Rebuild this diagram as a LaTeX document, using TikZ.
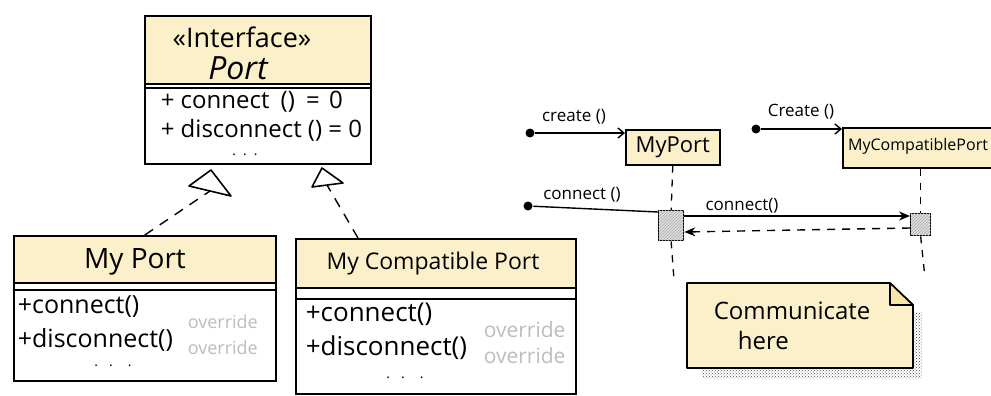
\documentclass[tikz,border=0pt]{standalone}
\usepackage{fontspec}
\setmainfont{Open Sans}
\usetikzlibrary{arrows.meta,patterns,calc}
\definecolor{hdr}{HTML}{FBF0C9}
\definecolor{foldc}{HTML}{F6E6A8}
\definecolor{ovrgray}{HTML}{BDBDBD}
\newcommand\myfs[1]{\fontsize{#1}{#1}\selectfont}
\begin{document}
\begin{tikzpicture}[x=1pt,y=-1pt,line width=1.6pt,
  umlbox/.style={draw,fill=white,anchor=north west,inner sep=0pt,
    path picture={\fill[hdr] (path picture bounding box.north west) rectangle ([yshift=-#1]path picture bounding box.north east);}},
  smallbox/.style={draw,fill=hdr,anchor=north west,inner sep=0pt},
  mth/.style={inner sep=0pt,anchor=west},
  ttl/.style={inner sep=0pt},
  dotsl/.style={inner sep=0pt,font=\myfs{14}},
  ovr/.style={inner sep=0pt,anchor=west,text=ovrgray},
  realize/.style={dash pattern=on 10pt off 8pt,line width=1.4pt},
  lifeline/.style={dash pattern=on 7pt off 7pt,line width=1.3pt},
  act/.style={draw,fill=gray!25,anchor=north west,inner sep=0pt,line width=1.3pt,
    postaction={pattern=north east lines,pattern color=gray!65}},
  startdot/.style={circle,fill=black,inner sep=0pt,minimum size=9pt},
  msglbl/.style={inner sep=0pt,font=\myfs{17}},
  openarr/.style={-{Straight Barb[length=6pt,width=10pt]}},
  fillarr/.style={-{Stealth[length=11pt,width=9pt]}}
]
\useasboundingbox (0,0) rectangle (991,396);
\clip (0,0) rectangle (991,396);

% ---------- Interface Port ----------
\node[umlbox=69pt,minimum width=226pt,minimum height=148pt] (port) at (144,15) {};
\draw ($(port.north west)+(0,69)$) -- ($(port.north east)+(0,69)$);
\draw ($(port.north west)+(0,73)$) -- ($(port.north east)+(0,73)$);
\node[ttl,font=\myfs{27}] (stereo) at (242,37) {«Interface»};
\node[ttl,font=\myfs{32}\itshape] (portname) at (238,68) {Port};
\node[mth,font=\myfs{24}] (pm1) at (160,102) {+ connect\hspace{5pt} ()\hspace{5pt} =\hspace{3pt} 0};
\node[mth,font=\myfs{24}] (pm2) at (160,130) {+ disconnect () = 0};
\node[dotsl] (pdots) at (245,155) {.\hspace{7pt}.\hspace{7pt}.};

% ---------- MyPort class ----------
\node[umlbox=48pt,minimum width=262pt,minimum height=145pt] (myport) at (13,235) {};
\draw ($(myport.north west)+(0,48)$) -- ($(myport.north east)+(0,48)$);
\draw ($(myport.north west)+(0,55)$) -- ($(myport.north east)+(0,55)$);
\node[ttl,font=\myfs{28}] (myportname) at (135,262) {My Port};
\node[mth,font=\myfs{25}] (mm1) at (17,307) {+connect()};
\node[mth,font=\myfs{25}] (mm2) at (17,340) {+disconnect()};
\node[ovr,font=\myfs{18}] (mo1) at (187,322) {override};
\node[ovr,font=\myfs{18}] (mo2) at (187,348) {override};
\node[dotsl] (mdots) at (113,366) {.\hspace{11pt}.\hspace{15pt}.};

% ---------- MyCompatiblePort class ----------
\node[umlbox=50pt,minimum width=280pt,minimum height=155pt] (compport) at (295,238) {};
\draw ($(compport.north west)+(0,50)$) -- ($(compport.north east)+(0,50)$);
\draw ($(compport.north west)+(0,61)$) -- ($(compport.north east)+(0,61)$);
\node[ttl,font=\myfs{23}] (compname) at (433,264) {My Compatible Port};
\node[mth,font=\myfs{26}] (cm1) at (305,314) {+connect()};
\node[mth,font=\myfs{26}] (cm2) at (305,348) {+disconnect()};
\node[ovr,font=\myfs{21}] (co1) at (483,330) {override};
\node[ovr,font=\myfs{21}] (co2) at (483,356) {override};
\node[dotsl] (cdots) at (405,378) {.\hspace{11pt}.\hspace{15pt}.};

% ---------- realization arrows ----------
\coordinate (t1base) at (210,191);
\coordinate (t2base) at (327,185);
\coordinate (r2start) at ($(compport.north west)+(63,0)$);
\draw[realize] (myport.north) -- (t1base);
\draw[realize] (r2start) -- (t2base);
\draw[fill=white,line join=round] (189,186) -- (231,196) -- (211,170) -- cycle;
\draw[fill=white,line join=round] (312,187) -- (343,183) -- (322,168) -- cycle;

% ---------- sequence diagram ----------
\node[smallbox,minimum width=94pt,minimum height=35pt,font=\myfs{22}] (sport) at (625,129) {MyPort};
\node[smallbox,minimum width=160pt,minimum height=40pt] (scomp) at (842,127) {};
\node[ttl,font=\myfs{16}] (scompname) at (918,146) {MyCompatiblePort};

\node[act,minimum width=25pt,minimum height=30pt] (a1) at (658,210) {};
\node[act,minimum width=20pt,minimum height=22pt] (a2) at (910,213) {};

\coordinate (l1end) at (674,280);
\coordinate (l2end) at (925,278);
\draw[lifeline] (sport.south) -- (a1.north);
\draw[lifeline] (a1.south) -- (l1end);
\draw[lifeline] (a2.north |- scomp.south) -- (a2.north);
\draw[lifeline] (a2.south) -- (l2end);

\node[startdot] (d1) at (530,133) {};
\node[startdot] (d2) at (756,129) {};
\node[startdot] (d3) at (528,206) {};

\draw[openarr,line width=1.4pt] (d1) -- (d1 -| sport.west);
\draw[openarr,line width=1.4pt] (d2) -- (d2 -| scomp.west);
\draw[line width=1.4pt] (d3) -- ([yshift=-2pt]a1.north west);
\draw[fillarr,line width=1.4pt] ([yshift=-6pt]a1.north east) -- ([yshift=-3pt]a2.north west);
\draw[fillarr,line width=1.4pt,dash pattern=on 8pt off 7pt] ([yshift=-15pt]a2.north west) -- ([yshift=-22pt]a1.north east);

\node[msglbl] (lbl1) at (574,117) {create ()};
\node[msglbl] (lbl2) at (801,112) {Create ()};
\node[msglbl] (lbl3) at (582,195) {connect ()};
\node[msglbl] (lbl4) at (742,206) {connect()};

% ---------- note ----------
\fill[pattern=crosshatch dots,pattern color=black!70]
  (914,312) -- (922,312) -- (922,378) -- (702,378) -- (702,369) -- (914,369) -- cycle;
\draw[fill=hdr,line join=round] (687,283) -- (890,283) -- (913,305) -- (913,368) -- (687,368) -- cycle;
\draw[fill=foldc,line join=round] (890,283) -- (890,305) -- (913,305) -- cycle;
\node[mth,font=\myfs{24}] (note1) at (713,311) {Communicate};
\node[mth,font=\myfs{24}] (note2) at (737,340) {here};
\end{tikzpicture}
\end{document}
